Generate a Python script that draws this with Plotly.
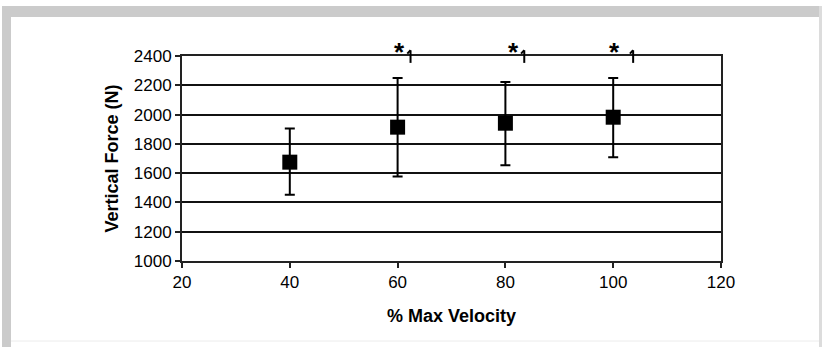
import plotly.graph_objects as go

# ---- data ----
velocity_pct = [40, 60, 80, 100]
force_mean = [1675, 1914, 1941, 1982]
force_upper = [1905, 2250, 2222, 2250]
force_lower = [1452, 1577, 1654, 1708]
sig_points = [60, 80, 100]
x_ticks = [20, 40, 60, 80, 100, 120]
y_ticks = [1000, 1200, 1400, 1600, 1800, 2000, 2200, 2400]

err_plus = [u - m for u, m in zip(force_upper, force_mean)]
err_minus = [m - l for m, l in zip(force_mean, force_lower)]

W, H = 822, 347
L, R, T, B = 182, 101, 56, 86
pw, ph = W - L - R, H - T - B
X_RANGE = [20, 120]
Y_RANGE = [1000, 2400]

def px(x):
    return (x - L) / pw

def py(y):
    return (H - B - y) / ph

def dx(v):
    return (v - X_RANGE[0]) / (X_RANGE[1] - X_RANGE[0])

def dy(v):
    return (v - Y_RANGE[0]) / (Y_RANGE[1] - Y_RANGE[0])

fig = go.Figure()
fig.add_trace(go.Scatter(
    x=velocity_pct, y=force_mean, mode="markers",
    marker=dict(symbol="square", size=15, color="black"),
    error_y=dict(type="data", symmetric=False, array=err_plus, arrayminus=err_minus,
                 color="black", thickness=2, width=5),
    showlegend=False,
))

shapes = []
frame_col = "#cbcbcb"
shapes.append(dict(type="rect", xref="paper", yref="paper", x0=px(2), x1=px(822), y0=py(17), y1=py(6),
                   fillcolor=frame_col, line_width=0, layer="below"))
shapes.append(dict(type="rect", xref="paper", yref="paper", x0=px(2), x1=px(11), y0=py(347), y1=py(6),
                   fillcolor=frame_col, line_width=0, layer="below"))
shapes.append(dict(type="rect", xref="paper", yref="paper", x0=px(819), x1=px(822), y0=py(347), y1=py(6),
                   fillcolor="#dcdcdc", line_width=0, layer="below"))
shapes.append(dict(type="line", xref="paper", yref="paper", x0=px(11), x1=px(819), y0=py(341), y1=py(341),
                   line=dict(color="#ececec", width=1), layer="below"))

annotations = []
star_dx = [0.3, 1.5, 1.6]
tick_dx = [2.4, 3.5, 3.7]
for s, sdx, tdx in zip(sig_points, star_dx, tick_dx):
    annotations.append(dict(x=dx(s + sdx), y=dy(2540), xref="paper", yref="paper", text="<b>*</b>",
                            showarrow=False,
                            font=dict(family="Liberation Sans, Arial", size=26, color="black")))
    shapes.append(dict(type="line", xref="paper", yref="paper", x0=dx(s + tdx), x1=dx(s + tdx),
                       y0=dy(2439), y1=dy(2353), line=dict(color="black", width=2)))
    shapes.append(dict(type="line", xref="paper", yref="paper", x0=dx(s + tdx - 0.6), x1=dx(s + tdx),
                       y0=dy(2416), y1=dy(2439), line=dict(color="black", width=2)))

fig.update_layout(
    width=W, height=H,
    margin=dict(l=L, r=R, t=T, b=B, pad=0),
    paper_bgcolor="white", plot_bgcolor="white",
    font=dict(family="Liberation Sans, Arial", size=17, color="black"),
    shapes=shapes, annotations=annotations,
    xaxis=dict(range=X_RANGE, tickvals=x_ticks, ticks="outside", ticklen=5, tickwidth=2,
               tickcolor="#222", showline=True, linecolor="#222", linewidth=2, mirror=True,
               showgrid=False, zeroline=False,
               title=dict(text="<b>% Max Velocity</b>", font=dict(size=18), standoff=18)),
    yaxis=dict(range=Y_RANGE, tickvals=y_ticks, ticks="outside", ticklen=5, tickwidth=2,
               tickcolor="#222", showline=True, linecolor="#222", linewidth=2, mirror=True,
               showgrid=True, gridcolor="#111", gridwidth=2, zeroline=False,
               title=dict(text="<b>Vertical Force (N)</b>", font=dict(size=18), standoff=10)),
)

fig.write_html("out.html")
